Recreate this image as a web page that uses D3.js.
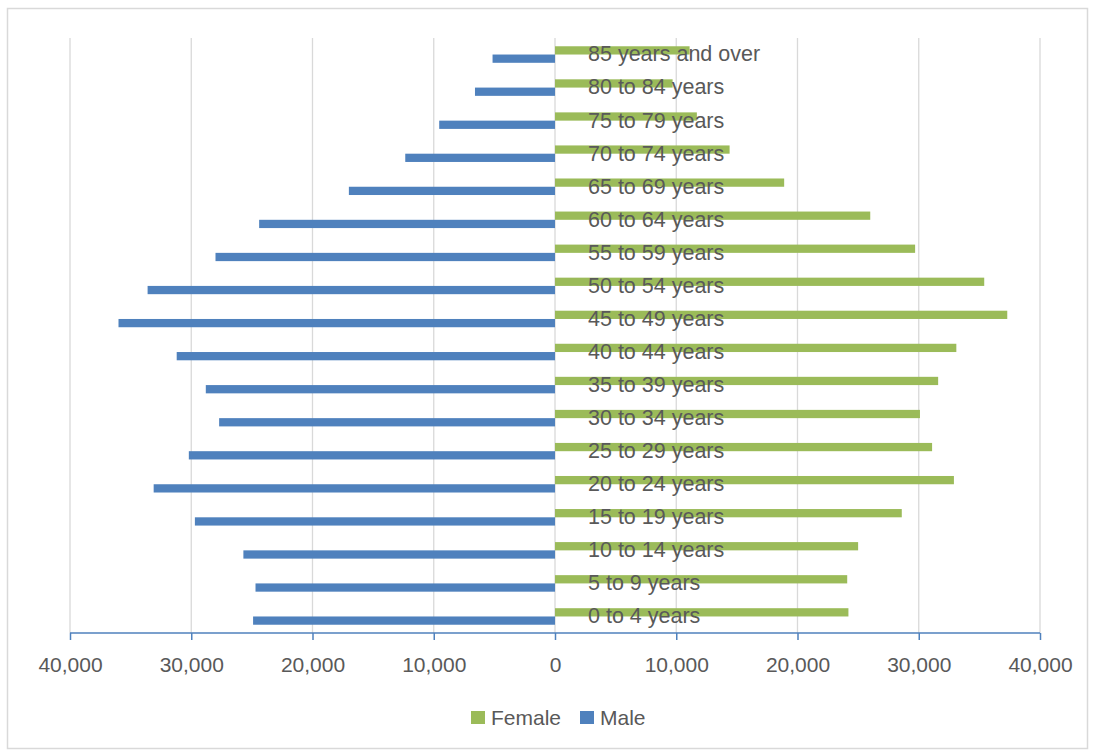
<!DOCTYPE html>
<html>
<head>
<meta charset="utf-8">
<script src="https://cdn.jsdelivr.net/npm/d3@7"></script>
<style>
  html, body { margin: 0; padding: 0; background: #fff; }
  svg { display: block; font-family: "Liberation Sans", Arial, sans-serif; }
</style>
</head>
<body>
<svg id="chart" width="1095" height="751"></svg>
<script>
// Age groups, youngest first
const ageGroups = [
  "0 to 4 years", "5 to 9 years", "10 to 14 years", "15 to 19 years",
  "20 to 24 years", "25 to 29 years", "30 to 34 years", "35 to 39 years",
  "40 to 44 years", "45 to 49 years", "50 to 54 years", "55 to 59 years",
  "60 to 64 years", "65 to 69 years", "70 to 74 years", "75 to 79 years",
  "80 to 84 years", "85 years and over"
];
const femaleValues = [
  24200, 24100, 25000, 28600, 32900, 31100, 30100, 31600, 33100,
  37300, 35400, 29700, 26000, 18900, 14400, 11700, 9700, 11100
];
const maleValues = [
  24900, 24700, 25700, 29700, 33100, 30200, 27700, 28800, 31200,
  36000, 33600, 28000, 24400, 17000, 12350, 9550, 6600, 5150
];
const seriesNames = ["Female", "Male"];
const seriesColors = ["#9bbb59", "#4f81bd"];
const tickValues = [-40000, -30000, -20000, -10000, 0, 10000, 20000, 30000, 40000];

const svg = d3.select("#chart");
const textColor = "#595959";

// Outer chart frame
svg.append("rect")
  .attr("x", 7.5).attr("y", 8.5)
  .attr("width", 1080).attr("height", 740)
  .attr("fill", "#fff")
  .attr("stroke", "#d9d9d9").attr("stroke-width", 1.5);

const plot = { left: 70, right: 1040, top: 38, bottom: 633 };

const x = d3.scaleLinear().domain([-40000, 40000]).range([plot.left, plot.right]);
const y = d3.scaleBand()
  .domain(ageGroups.slice().reverse())
  .range([plot.top, plot.bottom])
  .padding(0);
const ySub = d3.scaleBand()
  .domain(seriesNames)
  .range([0, y.bandwidth()])
  .paddingInner(0)
  .paddingOuter(1);

// Vertical gridlines
svg.append("g")
  .selectAll("line")
  .data(tickValues)
  .join("line")
  .attr("x1", d => x(d)).attr("x2", d => x(d))
  .attr("y1", plot.top).attr("y2", plot.bottom)
  .attr("stroke", "#d9d9d9").attr("stroke-width", 1.3);

// Bars: females to the right of zero, males to the left
const rows = ageGroups.map((g, i) => ({ group: g, Female: femaleValues[i], Male: maleValues[i] }));

const barG = svg.append("g");
seriesNames.forEach((s, si) => {
  barG.append("g")
    .attr("fill", seriesColors[si])
    .selectAll("rect")
    .data(rows)
    .join("rect")
    .attr("x", d => s === "Female" ? x(0) : x(-d[s]))
    .attr("width", d => Math.abs(x(d[s]) - x(0)))
    .attr("y", d => y(d.group) + ySub(s))
    .attr("height", ySub.bandwidth());
});

// Bottom value axis
const axis = d3.axisBottom(x)
  .tickValues(tickValues)
  .tickSize(7)
  .tickPadding(0)
  .tickFormat(d => d3.format(",")(Math.abs(d)));

const axisG = svg.append("g")
  .attr("transform", `translate(0,${plot.bottom})`)
  .call(axis);
axisG.select(".domain")
  .attr("stroke", "#4f81bd").attr("stroke-width", 1.5)
  .attr("d", `M${plot.left},0H${plot.right}`);
axisG.selectAll(".tick line").attr("stroke", "#4f81bd").attr("stroke-width", 1.5);
axisG.selectAll(".tick text")
  .attr("y", 39).attr("dy", null)
  .attr("fill", textColor)
  .style("font-size", "21px")
  .style("font-family", "\"Liberation Sans\", Arial, sans-serif");

// Category labels sitting just right of the zero line
svg.append("g")
  .selectAll("text")
  .data(ageGroups)
  .join("text")
  .attr("x", x(0) + 33)
  .attr("y", d => y(d) + y.bandwidth() / 2)
  .attr("dy", "0.32em")
  .attr("fill", textColor)
  .style("font-size", "21.5px")
  .text(d => d);

// Legend
const legend = svg.append("g");
const legendItems = [
  { name: "Female", color: seriesColors[0], x: 471 },
  { name: "Male", color: seriesColors[1], x: 580 }
];
legendItems.forEach(item => {
  legend.append("rect")
    .attr("x", item.x).attr("y", 711)
    .attr("width", 14).attr("height", 13)
    .attr("fill", item.color);
  legend.append("text")
    .attr("x", item.x + 20).attr("y", 725)
    .attr("fill", textColor)
    .style("font-size", "21px")
    .text(item.name);
});
</script>
</body>
</html>
